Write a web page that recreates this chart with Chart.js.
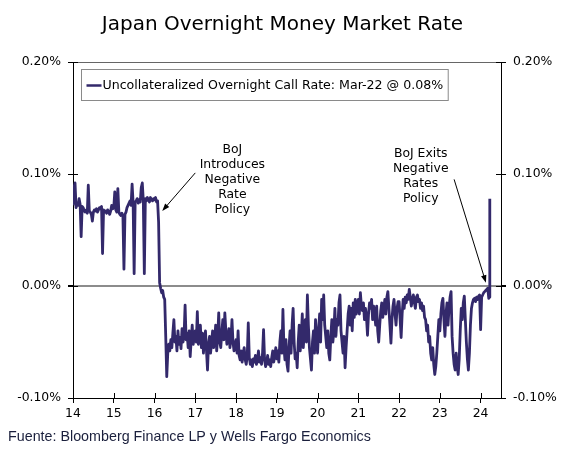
<!DOCTYPE html>
<html>
<head>
<meta charset="utf-8">
<script src="https://cdn.jsdelivr.net/npm/chart.js@4"></script>
<style>
  body { margin: 0; background: #fff; }
  #wrap { width: 565px; height: 458px; position: relative; }
</style>
</head>
<body>
<div id="wrap"><canvas id="rate-chart"></canvas></div>
<script>
// Japan overnight call rate, % (x = two-digit year, fractional)
const xTicks = [14, 15, 16, 17, 18, 19, 20, 21, 22, 23, 24];
const yTicks = [-0.1, 0, 0.1, 0.2];

const dates = [
  14.000, 14.025, 14.050, 14.075, 14.100, 14.125, 14.150, 14.175, 14.200, 14.225, 14.250, 14.275, 14.300, 14.325, 14.350, 14.375, 14.400, 14.425, 14.450, 14.475,
  14.500, 14.525, 14.550, 14.575, 14.600, 14.625, 14.650, 14.675, 14.700, 14.725, 14.750, 14.775, 14.800, 14.825, 14.850, 14.875, 14.900, 14.925, 14.950, 14.975,
  15.000, 15.025, 15.050, 15.075, 15.100, 15.125, 15.150, 15.175, 15.200, 15.225, 15.250, 15.275, 15.300, 15.325, 15.350, 15.375, 15.400, 15.425, 15.450, 15.475,
  15.500, 15.525, 15.550, 15.575, 15.600, 15.625, 15.650, 15.675, 15.700, 15.725, 15.750, 15.775, 15.800, 15.825, 15.850, 15.875, 15.900, 15.925, 15.950, 15.975,
  16.000, 16.025, 16.050, 16.075, 16.100, 16.125, 16.150, 16.175, 16.200, 16.225, 16.250, 16.275, 16.300, 16.325, 16.350, 16.375, 16.400, 16.425, 16.450, 16.475,
  16.500, 16.525, 16.550, 16.575, 16.600, 16.625, 16.650, 16.675, 16.700, 16.725, 16.750, 16.775, 16.800, 16.825, 16.850, 16.875, 16.900, 16.925, 16.950, 16.975,
  17.000, 17.025, 17.050, 17.075, 17.100, 17.125, 17.150, 17.175, 17.200, 17.225, 17.250, 17.275, 17.300, 17.325, 17.350, 17.375, 17.400, 17.425, 17.450, 17.475,
  17.500, 17.525, 17.550, 17.575, 17.600, 17.625, 17.650, 17.675, 17.700, 17.725, 17.750, 17.775, 17.800, 17.825, 17.850, 17.875, 17.900, 17.925, 17.950, 17.975,
  18.000, 18.025, 18.050, 18.075, 18.100, 18.125, 18.150, 18.175, 18.200, 18.225, 18.250, 18.275, 18.300, 18.325, 18.350, 18.375, 18.400, 18.425, 18.450, 18.475,
  18.500, 18.525, 18.550, 18.575, 18.600, 18.625, 18.650, 18.675, 18.700, 18.725, 18.750, 18.775, 18.800, 18.825, 18.850, 18.875, 18.900, 18.925, 18.950, 18.975,
  19.000, 19.025, 19.050, 19.075, 19.100, 19.125, 19.150, 19.175, 19.200, 19.225, 19.250, 19.275, 19.300, 19.325, 19.350, 19.375, 19.400, 19.425, 19.450, 19.475,
  19.500, 19.525, 19.550, 19.575, 19.600, 19.625, 19.650, 19.675, 19.700, 19.725, 19.750, 19.775, 19.800, 19.825, 19.850, 19.875, 19.900, 19.925, 19.950, 19.975,
  20.000, 20.025, 20.050, 20.075, 20.100, 20.125, 20.150, 20.175, 20.200, 20.225, 20.250, 20.275, 20.300, 20.325, 20.350, 20.375, 20.400, 20.425, 20.450, 20.475,
  20.500, 20.525, 20.550, 20.575, 20.600, 20.625, 20.650, 20.675, 20.700, 20.725, 20.750, 20.775, 20.800, 20.825, 20.850, 20.875, 20.900, 20.925, 20.950, 20.975,
  21.000, 21.025, 21.050, 21.075, 21.100, 21.125, 21.150, 21.175, 21.200, 21.225, 21.250, 21.275, 21.300, 21.325, 21.350, 21.375, 21.400, 21.425, 21.450, 21.475,
  21.500, 21.525, 21.550, 21.575, 21.600, 21.625, 21.650, 21.675, 21.700, 21.725, 21.750, 21.775, 21.800, 21.825, 21.850, 21.875, 21.900, 21.925, 21.950, 21.975,
  22.000, 22.025, 22.050, 22.075, 22.100, 22.125, 22.150, 22.175, 22.200, 22.225, 22.250, 22.275, 22.300, 22.325, 22.350, 22.375, 22.400, 22.425, 22.450, 22.475,
  22.500, 22.525, 22.550, 22.575, 22.600, 22.625, 22.650, 22.675, 22.700, 22.725, 22.750, 22.775, 22.800, 22.825, 22.850, 22.875, 22.900, 22.925, 22.950, 22.975,
  23.000, 23.025, 23.050, 23.075, 23.100, 23.125, 23.150, 23.175, 23.200, 23.225, 23.250, 23.275, 23.300, 23.325, 23.350, 23.375, 23.400, 23.425, 23.450, 23.475,
  23.500, 23.525, 23.550, 23.575, 23.600, 23.625, 23.650, 23.675, 23.700, 23.725, 23.750, 23.775, 23.800, 23.825, 23.850, 23.875, 23.900, 23.925, 23.950, 23.975,
  24.000, 24.025, 24.050, 24.075, 24.100, 24.125, 24.150, 24.175, 24.200, 24.215, 24.225
];

const rates = [
  // 2014
  0.072, 0.088, 0.092, 0.070, 0.074, 0.072, 0.078, 0.073, 0.044, 0.071, 0.070, 0.067, 0.066, 0.068, 0.065, 0.090, 0.067, 0.066, 0.064, 0.058,
  0.066, 0.068, 0.067, 0.069, 0.066, 0.068, 0.070, 0.069, 0.071, 0.029, 0.068, 0.066, 0.067, 0.065, 0.068, 0.066, 0.064, 0.067, 0.072, 0.069,
  // 2015
  0.070, 0.084, 0.068, 0.066, 0.087, 0.066, 0.064, 0.063, 0.065, 0.062, 0.015, 0.064, 0.066, 0.070, 0.072, 0.074, 0.076, 0.072, 0.091, 0.074,
  0.011, 0.075, 0.076, 0.078, 0.074, 0.077, 0.075, 0.088, 0.092, 0.076, 0.011, 0.078, 0.076, 0.079, 0.077, 0.075, 0.079, 0.077, 0.076, 0.078,
  // 2016
  0.077, 0.079, 0.075, 0.076, 0.057, 0.003, -0.002, -0.006, -0.004, -0.010, -0.012, -0.045, -0.081, -0.060, -0.052, -0.058, -0.048, -0.055, -0.042, -0.030,
  -0.050, -0.045, -0.058, -0.040, -0.052, -0.046, -0.056, -0.038, -0.050, -0.044, -0.017, -0.048, -0.042, -0.055, -0.040, -0.063, -0.048, -0.035, -0.052, -0.045,
  // 2017
  -0.040, -0.050, -0.023, -0.052, -0.045, -0.035, -0.055, -0.042, -0.060, -0.048, -0.040, -0.058, -0.075, -0.052, -0.045, -0.060, -0.050, -0.040, -0.055, -0.048,
  -0.035, -0.058, -0.045, -0.024, -0.050, -0.055, -0.042, -0.030, -0.048, -0.024, -0.040, -0.052, -0.045, -0.038, -0.055, -0.048, -0.030, -0.050, -0.058, -0.052,
  // 2018
  -0.048, -0.060, -0.040, -0.062, -0.066, -0.058, -0.068, -0.060, -0.055, -0.066, -0.070, -0.062, -0.033, -0.064, -0.070, -0.066, -0.072, -0.065, -0.068, -0.062,
  -0.070, -0.066, -0.058, -0.068, -0.064, -0.070, -0.060, -0.039, -0.066, -0.072, -0.068, -0.062, -0.070, -0.066, -0.072, -0.064, -0.058, -0.068, -0.062, -0.055,
  // 2019
  -0.065, -0.058, -0.068, -0.050, -0.040, -0.060, -0.021, -0.055, -0.066, -0.048, -0.070, -0.076, -0.055, -0.040, -0.060, -0.035, -0.020, -0.050, -0.065, -0.060,
  -0.073, -0.050, -0.035, -0.058, -0.045, -0.025, -0.055, -0.040, -0.030, -0.050, -0.008, -0.035, -0.055, -0.065, -0.075, -0.050, -0.040, -0.060, -0.030, -0.045,
  // 2020
  -0.060, -0.040, -0.025, -0.050, -0.012, -0.030, -0.008, -0.035, -0.045, -0.055, -0.040, -0.060, -0.066, -0.045, -0.030, -0.050, -0.040, -0.020, -0.045, -0.030,
  -0.035, -0.015, -0.008, -0.040, -0.050, -0.060, -0.045, -0.073, -0.055, -0.040, -0.025, -0.018, -0.035, -0.020, -0.040, -0.015, -0.028, -0.012, -0.025, -0.018,
  // 2021
  -0.012, -0.025, -0.006, -0.018, -0.022, -0.015, -0.030, -0.020, -0.028, -0.044, -0.025, -0.015, -0.020, -0.012, -0.030, -0.018, -0.025, -0.035, -0.018, -0.040,
  -0.050, -0.035, -0.022, -0.015, -0.028, -0.020, -0.012, -0.025, -0.010, -0.005, -0.020, -0.035, -0.051, -0.030, -0.018, -0.012, -0.025, -0.035, -0.020, -0.014,
  // 2022
  -0.014, -0.030, -0.046, -0.025, -0.012, -0.020, -0.010, -0.015, -0.008, -0.012, -0.003, -0.010, -0.018, -0.012, -0.008, -0.015, -0.020, -0.010, -0.008, -0.014,
  -0.012, -0.020, -0.015, -0.022, -0.018, -0.028, -0.030, -0.040, -0.035, -0.050, -0.045, -0.060, -0.066, -0.055, -0.070, -0.079, -0.072, -0.060, -0.045, -0.030,
  // 2023
  -0.040, -0.025, -0.015, -0.011, -0.030, -0.045, -0.025, -0.015, -0.035, -0.020, -0.010, -0.005, -0.045, -0.060, -0.070, -0.075, -0.060, -0.072, -0.079, -0.065,
  -0.040, -0.020, -0.030, -0.015, -0.009, -0.030, -0.050, -0.065, -0.075, -0.060, -0.035, -0.020, -0.015, -0.012, -0.011, -0.014, -0.010, -0.012, -0.009, -0.008,
  // 2024
  -0.039, -0.010, -0.008, -0.006, -0.005, -0.004, -0.003, -0.002, -0.011, -0.010, 0.078
];

const seriesLabel = "Uncollateralized Overnight Call Rate: Mar-22 @ 0.08%";
const footerText = "Fuente: Bloomberg Finance LP y Wells Fargo Economics";

// call-outs, anchored in data units
const notes = [
  { lines: ["BoJ", "Introduces", "Negative", "Rate", "Policy"], x: 17.91, y: 0.1213,
    from: [17.00, 0.101], to: [16.19, 0.067] },
  { lines: ["BoJ Exits", "Negative", "Rates", "Policy"], x: 22.53, y: 0.1184,
    from: [23.35, 0.0952], to: [24.13, 0.003] }
];

const lineColor = "#33296b";
const font = "'DejaVu Sans', Verdana, sans-serif";

const decor = {
  id: "decor",
  afterDraw(chart) {
    const { ctx, chartArea: a, scales } = chart;
    const x = scales.x, y = scales.y;
    ctx.save();

    // inner half of the tick marks
    ctx.strokeStyle = "#000";
    ctx.lineWidth = 1;
    ctx.beginPath();
    x.ticks.forEach(t => {
      const px = Math.round(x.getPixelForValue(t.value)) + 0.5;
      ctx.moveTo(px, a.bottom); ctx.lineTo(px, a.bottom - 5);
    });
    y.ticks.forEach(t => {
      const py = Math.round(y.getPixelForValue(t.value)) + 0.5;
      ctx.moveTo(a.left, py); ctx.lineTo(a.left + 5, py);
      ctx.moveTo(a.right, py); ctx.lineTo(a.right - 5, py);
    });
    ctx.stroke();

    // legend box
    ctx.font = "12.6px " + font;
    ctx.textBaseline = "middle";
    const tw = ctx.measureText(seriesLabel).width;
    const bx = a.left + 8.5, by = a.top + 7.5;
    ctx.fillStyle = "#fff";
    ctx.fillRect(bx, by, tw + 26, 31);
    ctx.strokeStyle = "#8a8a8a";
    ctx.strokeRect(bx, by, tw + 26, 31);
    ctx.strokeStyle = lineColor;
    ctx.lineWidth = 2.5;
    ctx.beginPath();
    ctx.moveTo(bx + 5, by + 16); ctx.lineTo(bx + 20, by + 16);
    ctx.stroke();
    ctx.fillStyle = "#000";
    ctx.fillText(seriesLabel, bx + 21, by + 16);

    // annotations
    ctx.font = "12.4px " + font;
    ctx.textAlign = "center";
    notes.forEach(n => {
      const cx = x.getPixelForValue(n.x);
      const cy = y.getPixelForValue(n.y);
      n.lines.forEach((s, i) => ctx.fillText(s, cx, cy + i * 15));
      const x1 = x.getPixelForValue(n.from[0]), y1 = y.getPixelForValue(n.from[1]);
      const x2 = x.getPixelForValue(n.to[0]), y2 = y.getPixelForValue(n.to[1]);
      const ang = Math.atan2(y2 - y1, x2 - x1);
      ctx.strokeStyle = "#000";
      ctx.lineWidth = 1;
      ctx.beginPath();
      ctx.moveTo(x1, y1);
      ctx.lineTo(x2 - 5 * Math.cos(ang), y2 - 5 * Math.sin(ang));
      ctx.stroke();
      ctx.fillStyle = "#000";
      ctx.beginPath();
      ctx.moveTo(x2, y2);
      ctx.lineTo(x2 - 8 * Math.cos(ang - 0.35), y2 - 8 * Math.sin(ang - 0.35));
      ctx.lineTo(x2 - 8 * Math.cos(ang + 0.35), y2 - 8 * Math.sin(ang + 0.35));
      ctx.closePath();
      ctx.fill();
    });

    // source line
    ctx.textAlign = "left";
    ctx.font = "14.3px 'Liberation Sans', Arial, sans-serif";
    ctx.fillStyle = "#1a1f3c";
    ctx.fillText(footerText, 8, 437);
    ctx.restore();
  }
};

const yAxis = (position, drawGrid) => ({
  position: position,
  min: -0.1,
  max: 0.2,
  afterBuildTicks: s => { s.ticks = yTicks.map(v => ({ value: v })); },
  afterFit: s => { s.width = position === "left" ? 73 : 64; },
  border: { color: "#000", width: 1 },
  grid: {
    drawOnChartArea: drawGrid,
    tickLength: 5,
    tickColor: "#000",
    color: c => c.tick.value === 0 ? "#8c8c8c" : (c.tick.value > 0.15 ? "#666" : "rgba(0,0,0,0)"),
    lineWidth: c => c.tick.value === 0 ? 2 : 1,
  },
  ticks: {
    padding: 7,
    color: "#000",
    font: { family: font, size: 12.4 },
    callback: v => v.toFixed(2) + "%",
  },
});

new Chart(document.getElementById("rate-chart"), {
  type: "line",
  data: {
    datasets: [
      {
        label: seriesLabel,
        data: dates.map((d, i) => ({ x: d, y: rates[i] })),
        borderColor: lineColor,
        borderWidth: 2.8,
        borderJoinStyle: "round",
        pointRadius: 0,
        tension: 0,
      },
    ],
  },
  options: {
    responsive: true,
    maintainAspectRatio: false,
    animation: false,
    layout: { padding: { left: 0, right: 0, top: 0, bottom: 0 } },
    plugins: {
      legend: { display: false },
      tooltip: { enabled: false },
      title: {
        display: true,
        text: "Japan Overnight Money Market Rate",
        color: "#000",
        font: { family: font, size: 20, weight: "normal" },
        padding: { top: 13, bottom: 25 },
      },
    },
    scales: {
      x: {
        type: "linear",
        min: 14,
        max: 24.5,
        afterBuildTicks: s => { s.ticks = xTicks.map(v => ({ value: v })); },
        afterFit: s => { s.height = 60; },
        border: { color: "#000", width: 1 },
        grid: { drawOnChartArea: false, tickLength: 5, tickColor: "#000" },
        ticks: {
          padding: 3,
          color: "#000",
          maxRotation: 0,
          font: { family: font, size: 12.4 },
          callback: v => String(v),
        },
      },
      y: yAxis("left", true),
      y2: yAxis("right", false),
    },
  },
  plugins: [decor],
});
</script>
</body>
</html>
